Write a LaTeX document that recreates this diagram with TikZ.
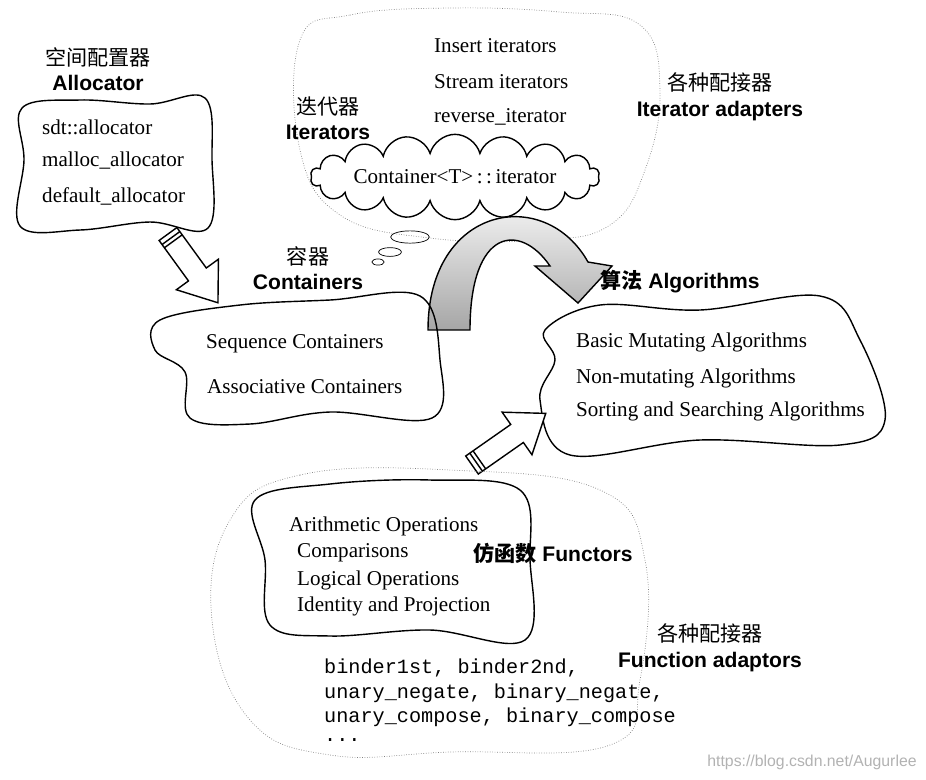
\documentclass[tikz,border=0pt]{standalone}
\usepackage{fontspec}
\setmainfont{Liberation Serif}
\newfontfamily\sansbf{Liberation Sans}
\newfontfamily\cjk{Noto Sans CJK SC}
\newfontfamily\monof{Liberation Mono}
\usetikzlibrary{positioning,shapes.symbols,shapes.geometric}
\begin{document}
\begin{tikzpicture}[x=0.02cm,y=-0.02cm,
  blob/.style={draw,thick,line join=round},
  dotblob/.style={draw,densely dotted,thin,gray},
  item/.style={anchor=west,font=\large},
  zh/.style={font=\cjk\large},
  en/.style={font=\sansbf\large\bfseries},
  code/.style={anchor=west,font=\monof\fontsize{11.5}{13}\selectfont},
  blockarrow/.style={draw,thick,fill=white,line join=miter}]
\useasboundingbox (0,0) rectangle (926,779);

% -------------------------------
\draw[dotblob] plot[smooth cycle,tension=0.7] coordinates {(300,40) (350,15) (450,8) (560,12) (640,25) (660,90) (645,170) (610,225) (540,240) (430,238) (340,215) (300,150)};
\node (itadz) [zh] at (720,82) {各种配接器};
\node (itaden) [en,below=-2pt of itadz] {Iterator adapters};
\node (ins) [item] at (428,46) {Insert iterators};
\node (str) [item] at (428,82) {Stream iterators};
\node (rev) [item] at (428,117) {reverse\_iterator};
\node (itzh) [zh] at (328,106) {迭代器};
\node (iten) [en,below=-2pt of itzh] {Iterators};
\node (itcl) [draw,thick,fill=white,cloud,cloud puffs=18,aspect=6,inner xsep=0pt,inner ysep=1pt,font=\large] at (455,177) {Container<T>\,:\,:\,iterator};
\node (b1) [draw,ellipse,minimum width=22pt,minimum height=7pt,inner sep=0pt] at (410,237) {};
\node (b2) [draw,ellipse,minimum width=13pt,minimum height=5pt,inner sep=0pt] at (390,252) {};
\node (b3) [draw,ellipse,minimum width=7pt,minimum height=3.5pt,inner sep=0pt] at (378,262) {};
\draw[thick,bottom color=gray!70,top color=white] (428,330) .. controls (428,205) and (545,185) .. (588,262) -- (612,266) -- (578,303) -- (535,266) -- (550,266) .. controls (520,222) and (470,228) .. (470,330) -- cycle;

% -------------------------------
\node (alzh) [zh] at (98,57) {空间配置器};
\node (alen) [en,below=-2pt of alzh] {Allocator};
\draw[blob] plot[smooth cycle,tension=0.6] coordinates {(22,108) (80,100) (150,104) (205,98) (212,160) (208,228) (150,222) (80,230) (20,226) (24,160)};
\node (al1) [item] at (36,127) {sdt::allocator};
\node (al2) [item] at (36,161) {malloc\_allocator};
\node (al3) [item] at (36,196) {default\_allocator};
\coordinate (a1) at (168,234);
\draw[blockarrow,shift={(a1)},rotate=-54] (0,-11) -- (50,-11) -- (50,-26) -- (85,0) -- (50,26) -- (50,11) -- (0,11) -- cycle
  (5,-11) -- (5,11) (9,-11) -- (9,11);

\node (cozh) [zh] at (308,256) {容器};
\node (coen) [en,below=-2pt of cozh] {Containers};
\draw[blob] plot[smooth cycle,tension=0.6] coordinates {(160,320) (240,305) (330,300) (420,296) (440,360) (432,418) (330,412) (250,424) (190,418) (185,372) (155,350)};
\node (co1) [item] at (200,344) {Sequence Containers};
\node (co2) [item] at (201,387) {Associative Containers};

\node (agen) [font=\sansbf\large\bfseries] at (680,282) {{\cjk 算法} Algorithms};
\draw[blob] plot[smooth cycle,tension=0.6] coordinates {(545,330) (600,305) (700,310) (820,296) (860,340) (885,420) (840,445) (700,440) (570,455) (540,400) (555,360)};
\node (ag1) [item] at (570,342) {Basic Mutating Algorithms};
\node (ag2) [item] at (570,378) {Non-mutating Algorithms};
\node (ag3) [item] at (570,411) {Sorting and Searching Algorithms};
\coordinate (a2) at (472,465);
\draw[blockarrow,shift={(a2)},rotate=35] (0,-11) -- (55,-11) -- (55,-26) -- (90,0) -- (55,26) -- (55,11) -- (0,11) -- cycle
  (5,-11) -- (5,11) (9,-11) -- (9,11);

% -------------------------------
\draw[dotblob] plot[smooth cycle,tension=0.7] coordinates {(230,520) (300,475) (450,470) (600,490) (645,560) (640,680) (610,745) (450,752) (330,755) (250,720) (212,620)};
\draw[blob] plot[smooth cycle,tension=0.6] coordinates {(255,500) (330,484) (430,480) (520,490) (530,560) (525,640) (430,630) (330,636) (270,625) (265,560)};
\node (fn1) [item] at (283,526) {Arithmetic Operations};
\node (fn2) [item] at (291,553) {Comparisons};
\node (fn3) [item] at (291,580) {Logical Operations};
\node (fn4) [item] at (291,606) {Identity and Projection};
\node (fnen) [font=\sansbf\large\bfseries] at (553,553) {{\cjk 仿函数} Functors};
\node (fazh) [zh] at (710,633) {各种配接器};
\node (faen) [en,below=-2pt of fazh] {Function adaptors};
\node (fa1) [code] at (318,668) {binder1st, binder2nd,};
\node (fa2) [code] at (318,693) {unary\_negate, binary\_negate,};
\node (fa3) [code] at (318,717) {unary\_compose, binary\_compose};
\node (fa4) [code] at (318,740) {...};
\node (wm) [font=\sansbf\small,text=gray!60] at (812,762) {https://blog.csdn.net/Augurlee};
\end{tikzpicture}
\end{document}
